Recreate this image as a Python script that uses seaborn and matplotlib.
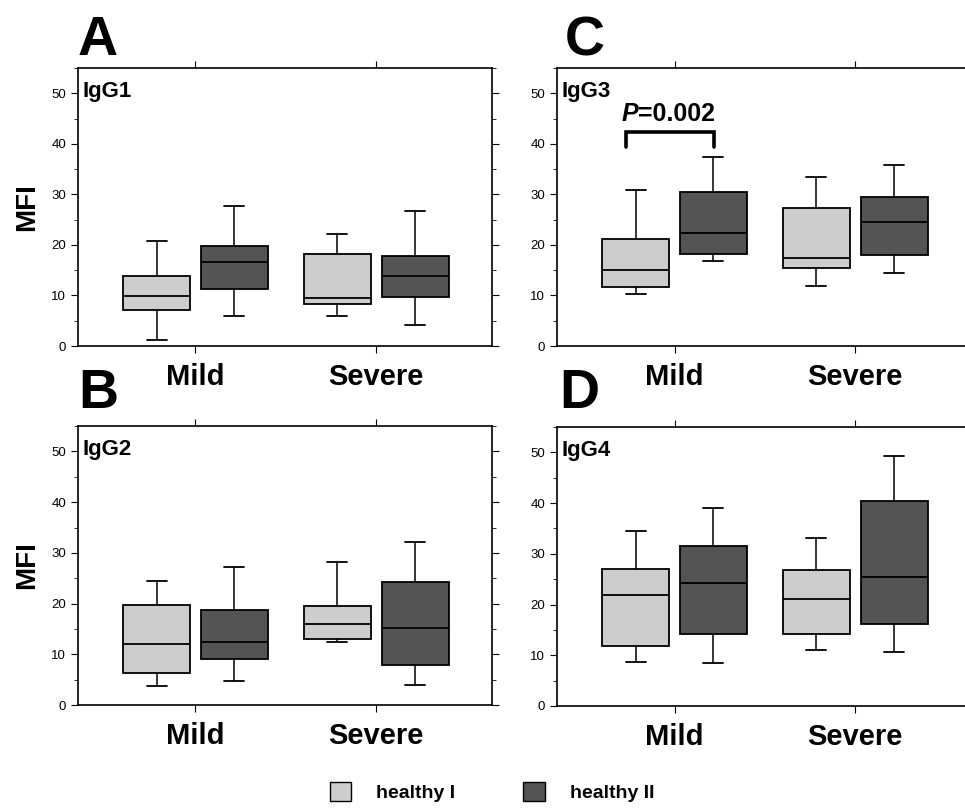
import numpy as np
import pandas as pd
import matplotlib
matplotlib.use("Agg")
import matplotlib.pyplot as plt
from matplotlib.patches import Patch
from matplotlib.ticker import MultipleLocator
import seaborn as sns

# box stats: [low whisker, q1, median, q3, high whisker]
groups = ["Mild", "Severe"]
subjects = ["healthy I", "healthy II"]

igg1_mild_h1 = [1.1, 7.2, 9.8, 13.9, 20.7]
igg1_mild_h2 = [6.0, 11.3, 16.7, 19.8, 27.8]
igg1_sev_h1 = [6.0, 8.3, 9.5, 18.2, 22.1]
igg1_sev_h2 = [4.2, 9.7, 13.9, 17.8, 26.7]

igg2_mild_h1 = [3.8, 6.4, 12.1, 19.8, 24.4]
igg2_mild_h2 = [4.7, 9.0, 12.4, 18.7, 27.3]
igg2_sev_h1 = [12.5, 13.0, 15.9, 19.6, 28.1]
igg2_sev_h2 = [3.9, 7.9, 15.1, 24.2, 32.2]

igg3_mild_h1 = [10.3, 11.7, 15.1, 21.2, 30.9]
igg3_mild_h2 = [16.8, 18.2, 22.3, 30.5, 37.4]
igg3_sev_h1 = [11.8, 15.5, 17.5, 27.4, 33.4]
igg3_sev_h2 = [14.5, 18.0, 24.6, 29.4, 35.8]

igg4_mild_h1 = [8.6, 11.8, 21.8, 27.0, 34.5]
igg4_mild_h2 = [8.4, 14.2, 24.3, 31.6, 39.1]
igg4_sev_h1 = [11.0, 14.2, 21.1, 26.8, 33.1]
igg4_sev_h2 = [10.6, 16.1, 25.4, 40.4, 49.3]

panels = {
    "IgG1": [igg1_mild_h1, igg1_mild_h2, igg1_sev_h1, igg1_sev_h2],
    "IgG2": [igg2_mild_h1, igg2_mild_h2, igg2_sev_h1, igg2_sev_h2],
    "IgG3": [igg3_mild_h1, igg3_mild_h2, igg3_sev_h1, igg3_sev_h2],
    "IgG4": [igg4_mild_h1, igg4_mild_h2, igg4_sev_h1, igg4_sev_h2],
}

light = "#cdcdcd"
dark = "#545454"

sns.set_style("ticks")
plt.rcParams["font.family"] = ["Liberation Sans", "DejaVu Sans"]
plt.rcParams["text.color"] = "black"
plt.rcParams["axes.labelcolor"] = "black"
plt.rcParams["axes.edgecolor"] = "black"
plt.rcParams["xtick.color"] = "black"
plt.rcParams["ytick.color"] = "black"


def long_frame(boxes):
    rows = []
    for (g, s), vals in zip([(g, s) for g in groups for s in subjects], boxes):
        for v in vals:
            rows.append({"group": g, "subject": s, "mfi": v})
    return pd.DataFrame(rows)


fig = plt.figure(figsize=(9.65, 8.1), dpi=100)

# axes placement [left, bottom, width, height] in figure fraction
layout = {
    "IgG1": ([0.0808, 0.5728, 0.429, 0.3432], "A", 0.0808, 0.932, True),
    "IgG3": ([0.5772, 0.5728, 0.429, 0.3432], "C", 0.585, 0.932, False),
    "IgG2": ([0.0808, 0.1296, 0.429, 0.3444], "B", 0.0808, 0.496, True),
    "IgG4": ([0.5772, 0.1284, 0.429, 0.3444], "D", 0.580, 0.496, False),
}

for name, (rect, letter, lx, ly, show_ylabel) in layout.items():
    ax = fig.add_axes(rect)
    df = long_frame(panels[name])
    sns.boxplot(data=df, x="group", y="mfi", hue="subject", order=groups,
                hue_order=subjects, palette=[light, dark], whis=(0, 100),
                width=0.86, gap=0.14, linecolor="black", linewidth=1.3,
                showfliers=False, legend=False, ax=ax, capwidths=0.11,
                medianprops={"color": "black", "linewidth": 1.3},
                whiskerprops={"linewidth": 1.1}, capprops={"linewidth": 1.3})
    ax.set_xlim(-0.65, 1.64)
    ax.set_ylim(0, 55)
    ax.set_yticks([0, 10, 20, 30, 40, 50])
    ax.yaxis.set_minor_locator(MultipleLocator(5))
    ax.set_xticks([0, 1])
    ax.set_xticklabels(groups, fontsize=21, fontweight="bold")
    ax.tick_params(axis="x", top=True, direction="out", length=5, pad=7)
    ax.tick_params(axis="y", which="both", right=True, direction="out")
    ax.tick_params(axis="y", which="major", length=5, labelsize=9.5)
    ax.tick_params(axis="y", which="minor", length=3)
    ax.set_xlabel("")
    if show_ylabel:
        ax.set_ylabel("MFI", fontsize=20, fontweight="bold", labelpad=8)
    else:
        ax.set_ylabel("")
    for sp in ax.spines.values():
        sp.set_visible(True)
        sp.set_linewidth(1.2)
    ax.text(0.012, 0.955, name, transform=ax.transAxes, ha="left", va="top",
            fontsize=16, fontweight="bold")
    fig.text(lx, ly, letter, fontsize=40, fontweight="bold", va="baseline")

    if name == "IgG3":
        bx = [-0.27, 0.22]
        ax.plot([bx[0], bx[0], bx[1], bx[1]], [39.3, 42.4, 42.4, 39.3],
                color="black", linewidth=2.6, solid_joinstyle="miter")
        ax.text(-0.20, 44.5, "P", fontsize=18, fontweight="bold",
                fontstyle="italic", ha="right", va="baseline")
        ax.text(-0.20, 44.5, "=0.002", fontsize=18, fontweight="bold",
                ha="left", va="baseline")

handles = [Patch(facecolor=light, edgecolor="black", linewidth=1.0),
           Patch(facecolor=dark, edgecolor="black", linewidth=1.0)]
fig.legend(handles, subjects, loc="center", bbox_to_anchor=(0.51, 0.022),
           ncol=2, frameon=False, handlelength=1.1, handleheight=1.1,
           handletextpad=1.3, columnspacing=3.5,
           prop={"weight": "bold", "size": 14})

fig.savefig("out.png", dpi=100)
